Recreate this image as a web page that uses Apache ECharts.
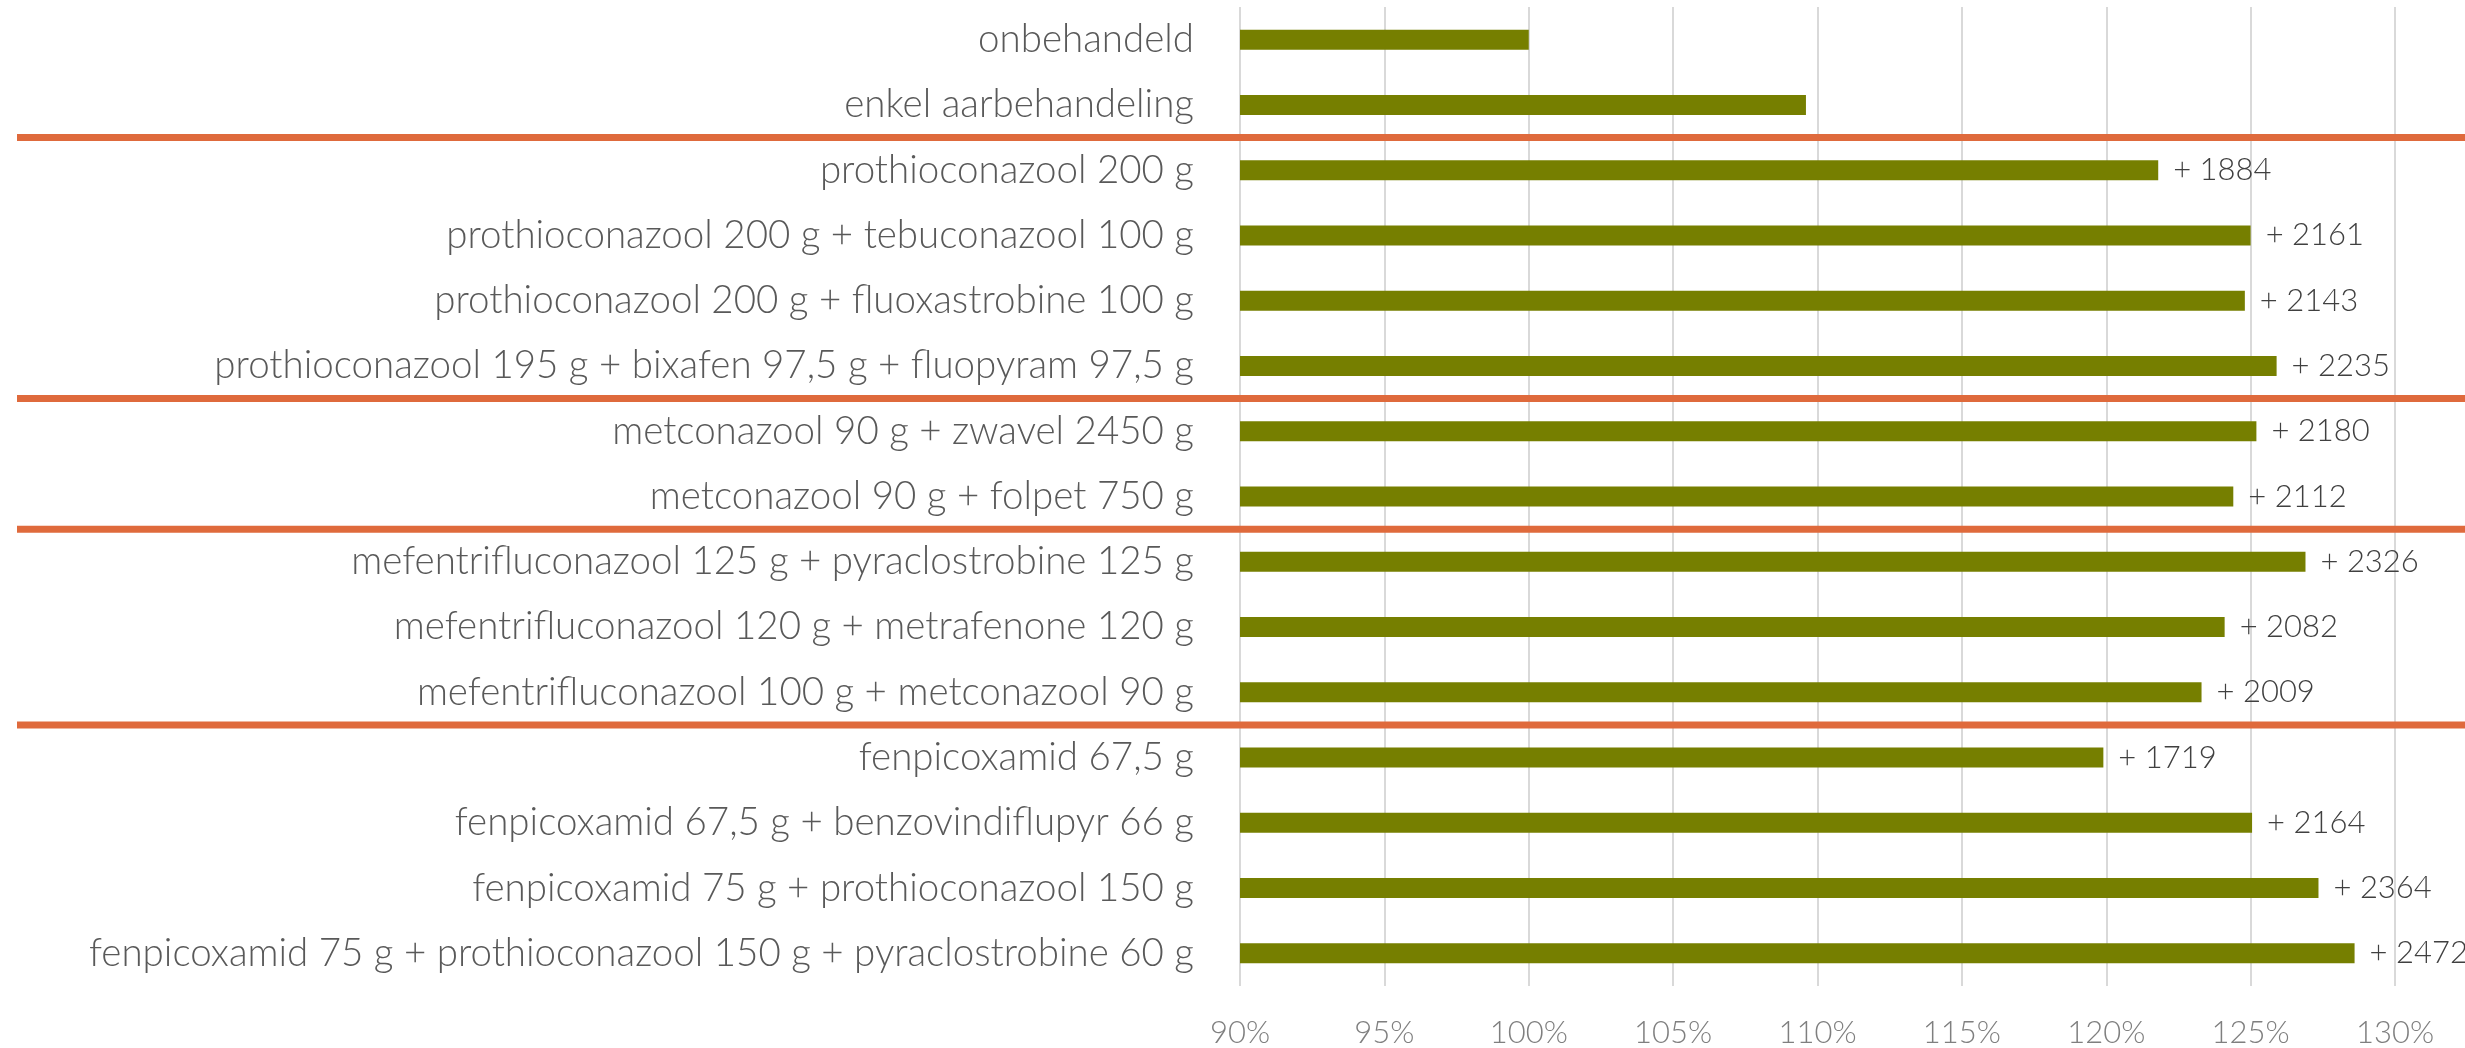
<!DOCTYPE html>
<html>
<head>
<meta charset="utf-8" />
<title>Opbrengst t.o.v. onbehandeld</title>
<script src="https://cdn.jsdelivr.net/npm/echarts@6/dist/echarts.min.js"></script>
<style>
  html, body { margin: 0; padding: 0; background: #ffffff; }
  #chart { width: 2465px; height: 1048px; }
</style>
</head>
<body>
<div id="chart"></div>
<script>
// behandelingen (van boven naar onder)
const categories = [
  "onbehandeld",
  "enkel aarbehandeling",
  "prothioconazool 200 g",
  "prothioconazool 200 g + tebuconazool 100 g",
  "prothioconazool 200 g + fluoxastrobine 100 g",
  "prothioconazool 195 g + bixafen 97,5 g + fluopyram 97,5 g",
  "metconazool 90 g + zwavel 2450 g",
  "metconazool 90 g + folpet 750 g",
  "mefentrifluconazool 125 g + pyraclostrobine 125 g",
  "mefentrifluconazool 120 g + metrafenone 120 g",
  "mefentrifluconazool 100 g + metconazool 90 g",
  "fenpicoxamid 67,5 g",
  "fenpicoxamid 67,5 g + benzovindiflupyr 66 g",
  "fenpicoxamid 75 g + prothioconazool 150 g",
  "fenpicoxamid 75 g + prothioconazool 150 g + pyraclostrobine 60 g",
];

// relatieve opbrengst (%), onbehandeld = 100
const relYield = [
  100, 109.6, 121.8, 125.0, 124.8, 125.9, 125.2, 124.4,
  126.9, 124.1, 123.3, 119.9, 125.05, 127.35, 128.6,
];

// meeropbrengst (kg/ha) naast de balk
const gain = [
  null, null, 1884, 2161, 2143, 2235, 2180, 2112,
  2326, 2082, 2009, 1719, 2164, 2364, 2472,
];

// x-as
const axisMin = 90;
const axisMax = 130;
const axisStep = 5;

// eerste categorie van elke nieuwe groep (oranje scheidingslijn erboven)
const groupStarts = [2, 6, 8, 11];

const FONT = "Lato";

const chart = echarts.init(document.getElementById("chart"));

chart.setOption({
  animation: false,
  backgroundColor: "#ffffff",
  grid: { left: 1240, right: 70, top: 7, bottom: 60, containLabel: false },
  xAxis: {
    type: "value",
    min: axisMin,
    max: axisMax,
    interval: axisStep,
    axisLine: { show: false },
    axisTick: { show: false },
    splitLine: { lineStyle: { color: "#d9d9d9", width: 2 } },
    axisLabel: {
      formatter: "{value}%",
      margin: 31,
      color: "#7f7f7f",
      fontFamily: FONT,
      fontWeight: 300,
      fontSize: 31,
    },
  },
  yAxis: {
    type: "category",
    data: categories,
    inverse: true,
    axisLine: { show: false },
    axisTick: { show: false },
    splitLine: { show: false },
    axisLabel: {
      margin: 46,
      color: "#595959",
      fontFamily: FONT,
      fontWeight: 300,
      fontSize: 38.5,
    },
  },
  series: [
    {
      type: "bar",
      data: relYield,
      barWidth: 20,
      itemStyle: { color: "#767f00" },
      label: {
        show: true,
        position: "right",
        distance: 15,
        color: "#404040",
        fontFamily: FONT,
        fontWeight: 300,
        fontSize: 31,
        formatter: (p) => (gain[p.dataIndex] == null ? "" : "+ " + gain[p.dataIndex]),
      },
    },
  ],
});

// oranje scheidingslijnen tussen de groepen, positie via de categorie-as
const sepLines = groupStarts.map((idx) => {
  const yPrev = chart.convertToPixel({ yAxisIndex: 0 }, categories[idx - 1]);
  const yNext = chart.convertToPixel({ yAxisIndex: 0 }, categories[idx]);
  const y = (yPrev + yNext) / 2;
  return {
    type: "line",
    z: 100,
    shape: { x1: 17, y1: y, x2: 2465, y2: y },
    style: { stroke: "#df6a3c", lineWidth: 7 },
  };
});

chart.setOption({ graphic: sepLines });
</script>
</body>
</html>
